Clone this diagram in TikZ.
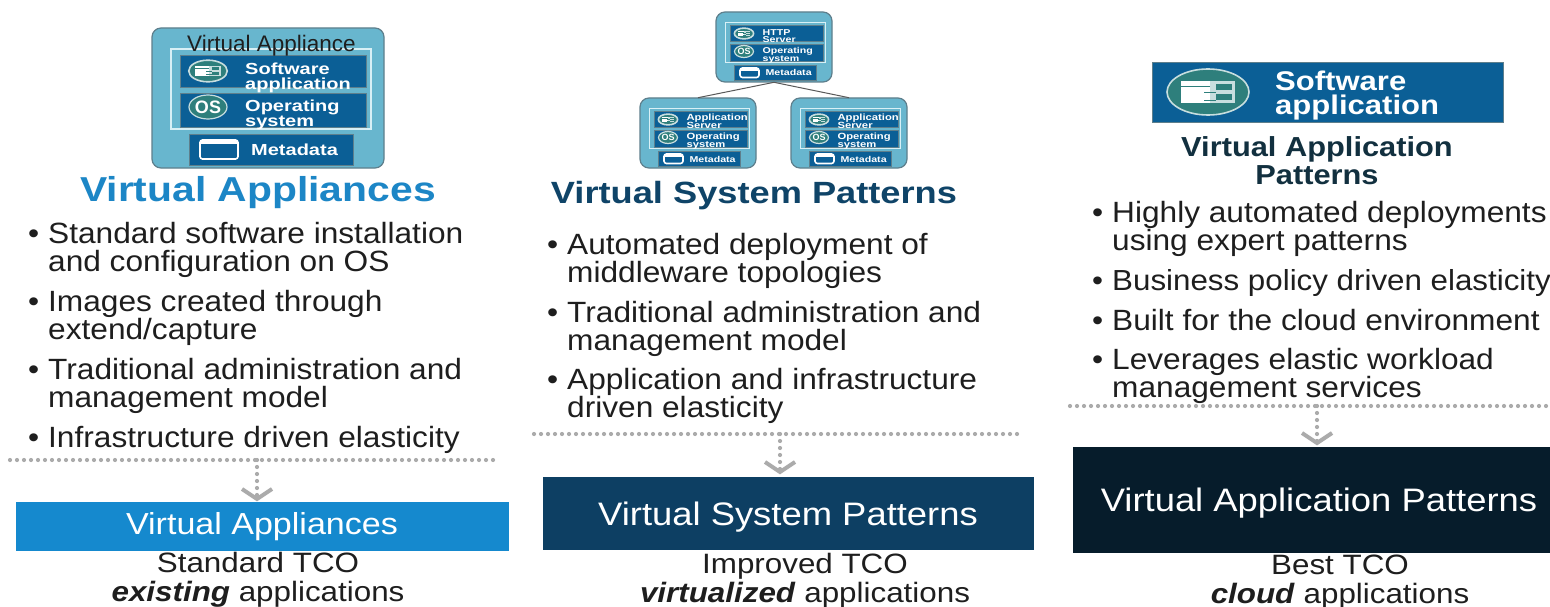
\documentclass[tikz,border=0pt]{standalone}
\usepackage{fontspec}
\setmainfont{Liberation Sans}
\newfontfamily\bodyf[FakeStretch=1.08]{Liberation Sans}
\newfontfamily\headf[FakeStretch=1.18]{Liberation Sans}
\newfontfamily\boxf[FakeStretch=1.12]{Liberation Sans}
\newfontfamily\compf[FakeStretch=1.25]{Liberation Sans}
\newfontfamily\bigswf[FakeStretch=1.15]{Liberation Sans}
\definecolor{applbg}{HTML}{68B6CE}
\definecolor{applline}{HTML}{5E7F8C}
\definecolor{frameline}{HTML}{D8F0F6}
\definecolor{deepblue}{HTML}{0B5F96}
\definecolor{iconfill}{HTML}{2E7F7C}
\definecolor{iconring}{HTML}{C8DEDF}
\definecolor{dotgrey}{HTML}{ABABAB}
\definecolor{bodytext}{HTML}{1E1E1E}
\definecolor{headone}{HTML}{1C86C6}
\definecolor{headtwo}{HTML}{0F4468}
\definecolor{headthree}{HTML}{12303F}
\definecolor{barone}{HTML}{1589CE}
\definecolor{bartwo}{HTML}{0D3F63}
\definecolor{barthree}{HTML}{061C2B}
\tikzset{
  bullettext/.style={anchor=base west,inner sep=0pt,align=left,text=bodytext,font=\bodyf\fontsize{29.3}{28}\selectfont},
  headtext/.style={anchor=base,inner sep=0pt,font=\headf\bfseries},
  bartext/.style={anchor=base,inner sep=0pt,text=white,font=\boxf},
  tcotext/.style={anchor=base,inner sep=0pt,text=bodytext,align=center,font=\boxf\fontsize{28}{29}\selectfont},
  barbox/.style={anchor=north west,inner sep=0pt,draw=none},
  seprule/.style={dotgrey,line width=4.2pt,line cap=round,dash pattern=on 0pt off 7pt},
  chevron/.style={dotgrey,line width=4pt},
  linkline/.style={draw=black!65,line width=1pt},
  compbox/.style={fill=deepblue,draw=applline,line width=.6pt},
  comptext/.style={anchor=base west,inner sep=0pt,text=white,align=left,transform shape},
}
\newcommand{\bul}{\llap{•\hspace{9pt}}}
% software icon: centre, scale
\newcommand{\swicon}[3]{%
  \begin{scope}[shift={(#1,#2)},scale=#3]
    \fill[iconfill,draw=iconring,line width=1.6pt] (0,0) ellipse [x radius=41,y radius=23];
    \fill[white] (-27,-11) rectangle (2,11);
    \fill[iconring] (2,-11) rectangle (27,11);
    \fill[iconfill] (8,-8) rectangle (24,-2);
    \fill[iconfill] (8,2) rectangle (24,8);
    \draw[iconfill,line width=.8pt] (-27,-6) -- (2,-6) (-4,0) -- (8,0) (-4,8) -- (8,8);
  \end{scope}}
% local size of an appliance: 232 x 140
\newcommand{\appliance}[7]{%
  \begin{scope}[shift={(#2,#3)},xscale=#4,yscale=#4]
    \node[minimum width=232pt,minimum height=140pt,inner sep=0pt,rounded corners=9pt,
      fill=applbg,draw=applline,line width=1.2pt,transform shape] (#1) at (116,70) {};
    \draw[frameline,line width=1.6pt] (19,21) rectangle (219,101);
    \fill[compbox] (28,27) rectangle (214,59);
    \fill[compbox] (28,65) rectangle (214,99);
    \fill[compbox] (37,106) rectangle (201,137);
    \swicon{56}{43}{.47}
    \fill[iconfill,draw=iconring,line width=1.2pt] (56,79) ellipse [x radius=19,y radius=12];
    \node[inner sep=0pt,text=white,transform shape,font=\bfseries\fontsize{18}{18}\selectfont] (#1os) at (56,79) {OS};
    \draw[white,line width=1.6pt,fill=deepblue,rounded corners=2.5pt] (48,112) rectangle (86,131);
    \draw[white,line width=3pt] (49,115) -- (85,115);
    \node[comptext,font=\compf\bfseries\fontsize{#6}{15}\selectfont] (#1sw) at (93,62) {#5};
    \node[comptext,font=\compf\bfseries\fontsize{#6}{15}\selectfont] (#1op) at (93,99) {Operating\\system};
    \node[comptext,font=\compf\bfseries\fontsize{#7}{15}\selectfont] (#1md) at (99,128) {Metadata};
  \end{scope}}
\newcommand{\droparrow}[1]{\draw[chevron] (#1) ++(-15,-10) -- (#1) -- ++(15,-10);}
\begin{document}
\begin{tikzpicture}[x=1pt,y=-1pt]
\useasboundingbox (0,0) rectangle (1550,607);
\fill[white] (0,0) rectangle (1550,607);

% ---------- column 1
\appliance{applA}{152}{28}{1}{Software\\application}{16}{16}
\node[anchor=base west,inner sep=0pt,text=bodytext,font=\fontsize{22.5}{22.5}\selectfont] (applAtitle) at (187,52) {Virtual Appliance};
\node[headtext,text=headone,font=\headf\bfseries\fontsize{34.6}{34.6}\selectfont] (headA) at (258,201) {Virtual Appliances};
\node[bullettext] (itemAa) at (48,271) {\bul Standard software installation\\and configuration on OS};
\node[bullettext] (itemAb) at (48,339) {\bul Images created through\\extend/capture};
\node[bullettext] (itemAc) at (48,407) {\bul Traditional administration and\\management model};
\node[bullettext] (itemAd) at (48,447) {\bul Infrastructure driven elasticity};
\coordinate (sepAl) at (10,460); \coordinate (sepAr) at (496,460);
\coordinate (sepAm) at (257,460); \coordinate (tipA) at (257,499);
\draw[seprule] (sepAl) -- (sepAr);
\draw[seprule] (sepAm) -- (tipA);
\droparrow{tipA}
\node[barbox,fill=barone,minimum width=493pt,minimum height=49pt] (barA) at (16,502) {};
\node[bartext,font=\boxf\fontsize{30.4}{30}\selectfont] (barAt) at (262,534) {Virtual Appliances};
\node[tcotext] (tcoA) at (258,601) {Standard TCO\\\textbf{\textit{existing}} applications};

% ---------- column 2
\appliance{topB}{716}{12}{.5}{HTTP\\Server}{17}{17}
\appliance{leftB}{640}{98}{.5}{Application\\Server}{18}{17}
\appliance{rightB}{791}{98}{.5}{Application\\Server}{18}{17}
\draw[linkline] (topB.south) -- (leftB.north);
\draw[linkline] (topB.south) -- (rightB.north);
\node[headtext,text=headtwo,font=\headf\bfseries\fontsize{30.7}{31}\selectfont] (headB) at (754,203) {Virtual System Patterns};
\node[bullettext] (itemBa) at (567,282) {\bul Automated deployment of\\middleware topologies};
\node[bullettext] (itemBb) at (567,350) {\bul Traditional administration and\\management model};
\node[bullettext] (itemBc) at (567,417) {\bul Application and infrastructure\\driven elasticity};
\coordinate (sepBl) at (534,434); \coordinate (sepBr) at (1024,434);
\coordinate (sepBm) at (780,434); \coordinate (tipB) at (780,472);
\draw[seprule] (sepBl) -- (sepBr);
\draw[seprule] (sepBm) -- (tipB);
\droparrow{tipB}
\node[barbox,fill=bartwo,minimum width=491pt,minimum height=73pt] (barB) at (543,477) {};
\node[bartext,font=\boxf\fontsize{32.5}{32}\selectfont] (barBt) at (788,525) {Virtual System Patterns};
\node[tcotext] (tcoB) at (805,602) {Improved TCO\\\textbf{\textit{virtualized}} applications};

% ---------- column 3
\node[barbox,fill=deepblue,draw=applline,line width=.8pt,minimum width=351pt,minimum height=60pt] (swC) at (1152,62) {};
\swicon{1208}{92}{1}
\node[anchor=base west,inner sep=0pt,text=white,align=left,font=\bigswf\bfseries\fontsize{27}{24.5}\selectfont] (swCt) at (1275,115) {Software\\application};
\node[anchor=base,inner sep=0pt,text=headthree,align=center,font=\boxf\bfseries\fontsize{27.5}{28}\selectfont] (headC) at (1317,184) {Virtual Application\\Patterns};
\node[bullettext] (itemCa) at (1112,250) {\bul Highly automated deployments\\using expert patterns};
\node[bullettext,font=\bodyf\fontsize{29}{28}\selectfont] (itemCb) at (1112,290) {\bul Business policy driven elasticity};
\node[bullettext] (itemCc) at (1112,330) {\bul Built for the cloud environment};
\node[bullettext] (itemCd) at (1112,397) {\bul Leverages elastic workload\\management services};
\coordinate (sepCl) at (1070,406); \coordinate (sepCr) at (1550,406);
\coordinate (sepCm) at (1317,406); \coordinate (tipC) at (1317,443);
\draw[seprule] (sepCl) -- (sepCr);
\draw[seprule] (sepCm) -- (tipC);
\droparrow{tipC}
\node[barbox,fill=barthree,minimum width=477pt,minimum height=106pt] (barC) at (1073,447) {};
\node[bartext,font=\boxf\fontsize{32.5}{32}\selectfont] (barCt) at (1319,511) {Virtual Application Patterns};
\node[tcotext] (tcoC) at (1340,603) {Best TCO\\\textbf{\textit{cloud}} applications};
\end{tikzpicture}
\end{document}
